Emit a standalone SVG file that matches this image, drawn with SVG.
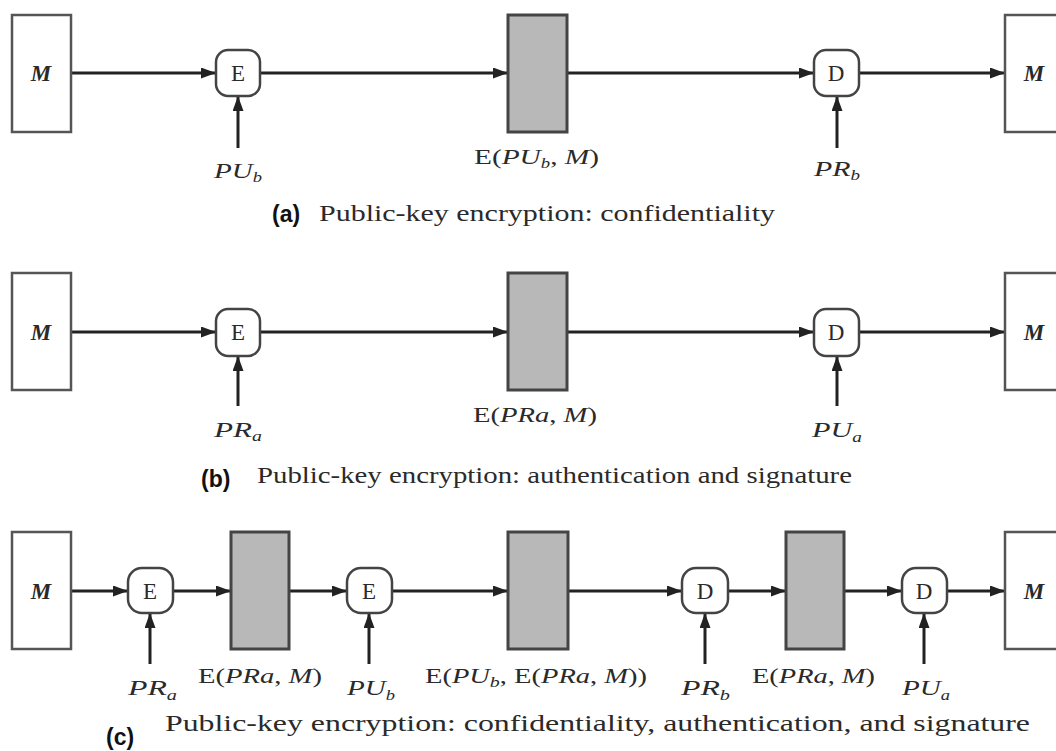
<svg xmlns="http://www.w3.org/2000/svg" width="1056" height="751" viewBox="0 0 1056 751">
<style>
.box{fill:#fff;stroke:#555;stroke-width:2.5}
.cipher{fill:#b8b8b8;stroke:#444;stroke-width:3}
.op{fill:#fff;stroke:#444;stroke-width:2.5}
.conn{stroke:#222;stroke-width:3;fill:none;marker-end:url(#ah)}
.t{font-family:"Liberation Serif","Times New Roman",serif;fill:#2a2a2a}
.m{font-size:23px;font-style:italic;font-weight:bold}
.opt{font-size:23px}
.lbl{font-size:22px}
.lblc{font-size:20px}
.key{font-size:22px;font-style:italic}
.cap{font-size:23px}
.tag{font-family:"Liberation Sans",Arial,sans-serif;font-weight:bold;font-size:23px;fill:#111}
.i{font-style:italic}
.sub{font-size:14px;font-style:italic}
</style>
<defs>
<marker id="ah" markerUnits="userSpaceOnUse" markerWidth="15" markerHeight="11" refX="15" refY="5.5" orient="auto">
<path d="M0,0 L15,5.5 L0,11 z" fill="#222"/>
</marker>
</defs>
<rect width="1056" height="751" fill="#fff"/>

<g id="connectors">
<!-- (a) -->
<line class="conn" x1="71" y1="73" x2="216" y2="73"/>
<line class="conn" x1="260" y1="73" x2="508" y2="73"/>
<line class="conn" x1="567" y1="73" x2="814" y2="73"/>
<line class="conn" x1="859" y1="73" x2="1005" y2="73"/>
<line class="conn" x1="238" y1="148" x2="238" y2="96"/>
<line class="conn" x1="837" y1="148" x2="837" y2="96"/>
<!-- (b) -->
<line class="conn" x1="71" y1="332" x2="216" y2="332"/>
<line class="conn" x1="260" y1="332" x2="508" y2="332"/>
<line class="conn" x1="567" y1="332" x2="814" y2="332"/>
<line class="conn" x1="859" y1="332" x2="1005" y2="332"/>
<line class="conn" x1="238" y1="406" x2="238" y2="356"/>
<line class="conn" x1="837" y1="406" x2="837" y2="356"/>
<!-- (c) -->
<line class="conn" x1="71" y1="591" x2="128" y2="591"/>
<line class="conn" x1="173" y1="591" x2="231" y2="591"/>
<line class="conn" x1="289" y1="591" x2="347" y2="591"/>
<line class="conn" x1="392" y1="591" x2="508" y2="591"/>
<line class="conn" x1="568" y1="591" x2="682" y2="591"/>
<line class="conn" x1="728" y1="591" x2="786" y2="591"/>
<line class="conn" x1="844" y1="591" x2="902" y2="591"/>
<line class="conn" x1="947" y1="591" x2="1005" y2="591"/>
<line class="conn" x1="150" y1="664" x2="150" y2="613"/>
<line class="conn" x1="369" y1="664" x2="369" y2="613"/>
<line class="conn" x1="705" y1="664" x2="705" y2="613"/>
<line class="conn" x1="924" y1="664" x2="924" y2="613"/>
</g>

<!-- ===== (a) ===== -->
<g id="a-m-src"><rect class="box" x="12" y="15" width="59" height="117"/><text class="t m" x="41" y="81" text-anchor="middle">M</text></g>
<g id="a-enc"><rect class="op" x="216" y="50" width="44" height="46" rx="12"/><text class="t opt" x="238" y="81" text-anchor="middle">E</text></g>
<g id="a-key-pub"><text class="t key" x="214" y="178" textLength="48" lengthAdjust="spacingAndGlyphs">PU<tspan class="sub" dy="4">b</tspan></text></g>
<g id="a-cipher"><rect class="cipher" x="508" y="15" width="59" height="117"/><text class="t lbl" x="474" y="164" textLength="125" lengthAdjust="spacingAndGlyphs">E(<tspan class="i">PU</tspan><tspan class="sub" dy="4">b</tspan><tspan dy="-4">, </tspan><tspan class="i">M</tspan>)</text></g>
<g id="a-dec"><rect class="op" x="814" y="50" width="45" height="46" rx="12"/><text class="t opt" x="836" y="81" text-anchor="middle">D</text></g>
<g id="a-key-prb"><text class="t key" x="814" y="176" textLength="46" lengthAdjust="spacingAndGlyphs">PR<tspan class="sub" dy="4">b</tspan></text></g>
<g id="a-m-dst"><rect class="box" x="1005" y="15" width="70" height="117"/><text class="t m" x="1034" y="81" text-anchor="middle">M</text></g>
<g id="a-caption"><text class="tag" x="272" y="222">(a)</text><text class="t cap" x="319" y="221" textLength="456" lengthAdjust="spacingAndGlyphs">Public-key encryption: confidentiality</text></g>

<!-- ===== (b) ===== -->
<g id="b-m-src"><rect class="box" x="12" y="273" width="59" height="117"/><text class="t m" x="41" y="340" text-anchor="middle">M</text></g>
<g id="b-enc"><rect class="op" x="216" y="309" width="44" height="47" rx="12"/><text class="t opt" x="238" y="340" text-anchor="middle">E</text></g>
<g id="b-key-pra"><text class="t key" x="214" y="437" textLength="48" lengthAdjust="spacingAndGlyphs">PR<tspan class="sub" dy="4">a</tspan></text></g>
<g id="b-cipher"><rect class="cipher" x="508" y="273" width="59" height="117"/><text class="t lbl" x="473" y="422" textLength="124" lengthAdjust="spacingAndGlyphs">E(<tspan class="i">PRa</tspan>, <tspan class="i">M</tspan>)</text></g>
<g id="b-dec"><rect class="op" x="814" y="309" width="45" height="47" rx="12"/><text class="t opt" x="836" y="340" text-anchor="middle">D</text></g>
<g id="b-key-pua"><text class="t key" x="812" y="437" textLength="50" lengthAdjust="spacingAndGlyphs">PU<tspan class="sub" dy="5">a</tspan></text></g>
<g id="b-m-dst"><rect class="box" x="1005" y="273" width="70" height="117"/><text class="t m" x="1034" y="340" text-anchor="middle">M</text></g>
<g id="b-caption"><text class="tag" x="201" y="487">(b)</text><text class="t cap" x="257" y="483" textLength="595" lengthAdjust="spacingAndGlyphs">Public-key encryption: authentication and signature</text></g>

<!-- ===== (c) ===== -->
<g id="c-m-src"><rect class="box" x="12" y="532" width="59" height="117"/><text class="t m" x="41" y="599" text-anchor="middle">M</text></g>
<g id="c-enc1"><rect class="op" x="128" y="568" width="45" height="45" rx="14"/><text class="t opt" x="150" y="599" text-anchor="middle">E</text></g>
<g id="c-key-pra"><text class="t key" x="128" y="695" textLength="49" lengthAdjust="spacingAndGlyphs">PR<tspan class="sub" dy="5">a</tspan></text></g>
<g id="c-cipher1"><rect class="cipher" x="231" y="532" width="58" height="117"/><text class="t lblc" x="198" y="683" textLength="124" lengthAdjust="spacingAndGlyphs">E(<tspan class="i">PRa</tspan>, <tspan class="i">M</tspan>)</text></g>
<g id="c-enc2"><rect class="op" x="347" y="568" width="45" height="45" rx="14"/><text class="t opt" x="369" y="599" text-anchor="middle">E</text></g>
<g id="c-key-pub"><text class="t key" x="347" y="695" textLength="48" lengthAdjust="spacingAndGlyphs">PU<tspan class="sub" dy="5">b</tspan></text></g>
<g id="c-cipher2"><rect class="cipher" x="508" y="532" width="60" height="117"/><text class="t lblc" x="425" y="683" textLength="222" lengthAdjust="spacingAndGlyphs">E(<tspan class="i">PU</tspan><tspan class="sub" dy="4">b</tspan><tspan dy="-4">, E(</tspan><tspan class="i">PRa</tspan>, <tspan class="i">M</tspan>))</text></g>
<g id="c-dec1"><rect class="op" x="682" y="568" width="46" height="45" rx="14"/><text class="t opt" x="705" y="599" text-anchor="middle">D</text></g>
<g id="c-key-prb"><text class="t key" x="681" y="695" textLength="49" lengthAdjust="spacingAndGlyphs">PR<tspan class="sub" dy="5">b</tspan></text></g>
<g id="c-cipher3"><rect class="cipher" x="786" y="532" width="58" height="117"/><text class="t lblc" x="752" y="683" textLength="123" lengthAdjust="spacingAndGlyphs">E(<tspan class="i">PRa</tspan>, <tspan class="i">M</tspan>)</text></g>
<g id="c-dec2"><rect class="op" x="902" y="568" width="45" height="45" rx="14"/><text class="t opt" x="924" y="599" text-anchor="middle">D</text></g>
<g id="c-key-pua"><text class="t key" x="902" y="695" textLength="48" lengthAdjust="spacingAndGlyphs">PU<tspan class="sub" dy="5">a</tspan></text></g>
<g id="c-m-dst"><rect class="box" x="1005" y="532" width="70" height="117"/><text class="t m" x="1034" y="599" text-anchor="middle">M</text></g>
<g id="c-caption"><text class="tag" x="106" y="745">(c)</text><text class="t cap" x="165" y="731" textLength="865" lengthAdjust="spacingAndGlyphs">Public-key encryption: confidentiality, authentication, and signature</text></g>
</svg>
